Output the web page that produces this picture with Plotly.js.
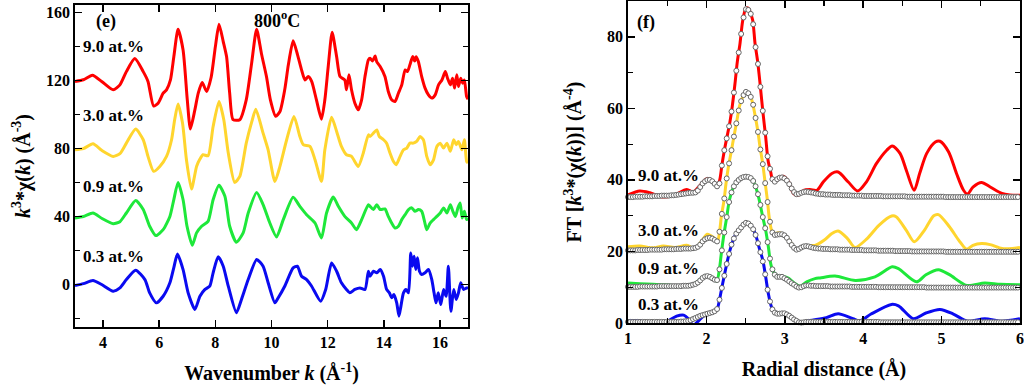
<!DOCTYPE html>
<html>
<head>
<meta charset="utf-8">
<script src="https://cdn.plot.ly/plotly-3.0.1.min.js"></script>
<style>html,body{margin:0;padding:0;background:#fff;}#plot{width:1024px;height:386px;}</style>
</head>
<body>
<div id="plot"></div>
<script>
// ---------- Panel (e): k^3*chi(k), offset curves ----------
const kRed = [3.0,3.3,3.62,3.95,4.36,4.6,4.83,5.13,5.43,5.6,5.8,5.96,6.14,6.26,6.4,6.52,6.67,6.85,7.0,7.11,7.27,7.39,7.53,7.69,7.85,8.0,8.13,8.28,8.4,8.51,8.63,8.87,9.1,9.29,9.47,9.64,9.82,9.96,10.15,10.3,10.47,10.6,10.77,10.93,11.07,11.19,11.31,11.43,11.6,11.78,11.9,12.02,12.16,12.32,12.44,12.61,12.67,12.76,12.85,12.97,13.09,13.21,13.33,13.45,13.51,13.6,13.69,13.75,13.87,14.04,14.16,14.28,14.4,14.52,14.64,14.76,14.84,14.93,15.03,15.1,15.15,15.23,15.35,15.47,15.59,15.71,15.83,15.95,16.07,16.19,16.27,16.37,16.45,16.52,16.6,16.66,16.74,16.81,16.87,16.95,17.0];
const chiRed = [119.5,120.5,123.2,119.5,114.6,117.5,125.3,133,125.3,119.5,105,106.7,112.6,114.6,120.4,134,150.2,138,108.7,91.5,102.8,112.6,118.9,113.6,122,140,153.2,143,134,112.6,97,97,108.7,130,150.2,136,122.4,108.7,99,101.8,114.6,129.3,143.4,135,126.3,120.4,122.4,119.5,108.7,97.3,108.7,128.3,148.4,134,122.4,120.4,114.6,123.4,114.6,106.7,102.8,108.7,122.4,132.2,133.2,131.5,134.5,131,128.3,122.4,113.6,108.7,107.7,112.6,117.5,126.3,125.3,129.3,134.2,131.5,134,131.2,122.4,115.6,111.6,109.7,111.6,117.5,120.4,125.3,121.4,117.5,121.4,115.6,123.4,116.5,121.4,118.5,120.4,110.6,109];

const kYel = [3.0,3.3,3.64,3.95,4.36,4.6,4.83,5.16,5.43,5.6,5.8,6.02,6.26,6.44,6.55,6.67,6.83,6.97,7.15,7.33,7.45,7.56,7.74,7.92,8.13,8.3,8.46,8.69,8.87,9.1,9.3,9.44,9.7,9.88,10.12,10.3,10.54,10.8,11.01,11.13,11.37,11.55,11.78,11.9,12.14,12.32,12.49,12.67,12.85,13.09,13.27,13.45,13.51,13.63,13.75,13.84,13.99,14.1,14.22,14.34,14.44,14.58,14.7,14.82,14.93,15.05,15.17,15.29,15.41,15.53,15.65,15.77,15.89,16.01,16.13,16.25,16.37,16.49,16.58,16.66,16.78,16.87,16.95,17.0];
const chiYel = [79.3,80,82.8,79,75.4,77,83.2,91.5,85.2,75.4,66.6,69.5,75.4,85.2,97,106.3,95,73.4,56.2,69.5,73.8,76.4,75.8,93,107.7,97,77.4,60.1,63.6,83.2,96,103.2,89.1,79.3,60.7,69.5,85.2,98.9,87.1,82.3,81.3,73.4,60.7,79.3,98.5,90.1,81.3,76.4,75.4,69.5,77.4,88.1,87.1,89.1,91,87.1,85.2,83.2,77.4,72.5,70.5,75.4,79.3,80.3,83.2,83.2,84.2,87.1,85.2,75.4,70.5,73.4,81.3,83.2,80.3,83.2,78.4,85.2,82.3,84.2,79.3,85.2,72.5,71.5];

const kGrn = [3.0,3.3,3.64,3.95,4.36,4.6,4.83,5.16,5.43,5.66,5.88,6.14,6.38,6.52,6.67,6.85,6.99,7.18,7.33,7.51,7.74,7.92,8.13,8.34,8.51,8.75,8.99,9.17,9.47,9.7,9.94,10.18,10.42,10.77,11.01,11.25,11.55,11.78,11.96,12.2,12.38,12.61,12.85,13.03,13.21,13.45,13.51,13.63,13.75,13.87,14.04,14.16,14.28,14.4,14.52,14.64,14.76,14.88,15.0,15.11,15.23,15.35,15.45,15.53,15.65,15.77,15.89,16.01,16.13,16.25,16.37,16.46,16.55,16.64,16.72,16.79,16.87,16.95,17.0];
const chiGrn = [39.2,40,42.1,39,35.8,37,42.1,49.5,44.1,34.3,28.8,32.3,40.1,50,60.1,49.9,34.3,23.1,30.4,34.3,37.2,49.9,58.4,51.9,34.3,24.9,30.4,42.1,54.2,47,36.2,28,38.2,51.3,46,41.1,36.2,27.4,42.1,51.5,46,40.1,36.2,32.3,38.2,47,46,44.1,47,44.1,44.5,40.1,36.2,33.3,34.3,38.2,41.1,44.1,45.1,43.1,44.1,43.1,37.2,32.3,36.2,38.2,40.1,42.1,45.1,42.1,47,43.1,40.1,45.1,48,39.1,43.1,38.2,39];

const kBlu = [3.0,3.3,3.64,3.95,4.36,4.6,4.83,5.16,5.49,5.66,5.9,6.14,6.38,6.52,6.65,6.85,7.03,7.27,7.45,7.63,7.8,7.92,8.1,8.28,8.46,8.75,8.93,9.17,9.47,9.7,9.88,10.12,10.24,10.47,10.77,10.92,11.07,11.25,11.43,11.75,11.93,12.14,12.32,12.49,12.67,12.79,12.97,13.15,13.33,13.45,13.51,13.63,13.75,13.87,13.99,14.1,14.2,14.28,14.36,14.46,14.54,14.61,14.7,14.79,14.88,14.96,15.02,15.08,15.14,15.2,15.27,15.35,15.47,15.59,15.71,15.79,15.86,15.94,16.03,16.13,16.22,16.3,16.39,16.49,16.58,16.66,16.74,16.84,16.95,17.0];
const chiBlu = [-0.6,0.5,2.4,0,-3.9,-2,2.9,8.4,2.9,-4.9,-10.8,-6.9,1,10,18,8.8,-4.9,-14.7,-6.9,-2.9,-1,6.9,16.3,10.8,-1,-16.6,-8.8,2.9,14.7,10.8,1,-10.8,-7.8,-1,9.8,10.8,4.9,2.9,-1,-9.8,-2.9,12.7,7.8,1,-2.9,-4.9,-2.9,-2,-2.9,7.8,4.9,7.8,6.9,8.8,4.9,-2.9,-4.9,-7.8,-5.9,-10.8,-18.6,-12.7,-4.9,-2.9,-4.9,18.6,10.8,16.6,8.8,15.7,7.8,5.9,6.9,8.8,2.9,-4.9,-10.8,-4.9,-11.8,-2.9,-6.9,10.8,-15.7,-2.9,-8.8,-4.9,1,-2.9,-2,-2];

// ---------- Panel (f): Fourier transform magnitude (lines) ----------
const rRed = [1.0,1.15,1.28,1.45,1.58,1.75,1.83,1.92,2.01,2.09,2.14,2.17,2.2,2.237,2.267,2.30,2.33,2.365,2.394,2.429,2.463,2.505,2.535,2.556,2.59,2.62,2.654,2.684,2.718,2.756,2.786,2.82,2.846,2.88,2.92,2.98,3.05,3.11,3.17,3.24,3.32,3.41,3.49,3.6,3.68,3.81,3.93,4.04,4.17,4.3,4.37,4.47,4.55,4.65,4.72,4.81,4.92,4.98,5.09,5.19,5.28,5.33,5.4,5.51,5.62,5.77,5.87,6.0];
const ftRed = [35.8,36.9,36.4,35.2,35.7,37.3,36.6,38.5,40.4,39.4,38.5,40,44.5,49.2,52.5,56.2,60.6,67,73,78.2,84.5,88,88,87,84.7,78.2,73,67,59.5,52,45.5,42.2,39.9,39.6,40.2,41,39.4,36.2,35.7,37.1,37.3,37.1,39.4,41.8,42.2,39.4,36.9,39.4,44.6,48.3,49.5,47.4,42.7,37.1,41.8,47.4,50.6,50.8,47.8,41.8,37.1,36,38,39.3,38,36.2,35.8,35.7];

const rYel = [1.0,1.15,1.32,1.45,1.6,1.75,1.855,1.94,2.01,2.09,2.14,2.17,2.19,2.225,2.25,2.28,2.32,2.35,2.39,2.42,2.455,2.505,2.556,2.59,2.62,2.654,2.684,2.718,2.748,2.778,2.8,2.83,2.86,2.92,2.98,3.05,3.1,3.15,3.22,3.3,3.385,3.5,3.6,3.68,3.8,3.895,4.05,4.2,4.363,4.42,4.55,4.652,4.78,4.9,4.96,5.1,5.22,5.32,5.4,5.51,5.62,5.77,5.9,6.0];
const ftYel = [21.3,21.5,21.0,21.5,21.1,21.7,20.8,22.9,24.8,23.9,22.7,25.9,29.7,34.3,39,43.6,48.3,52,56.7,60.4,62.8,64.6,63.7,61.4,58.1,53.9,49.2,44.6,39.4,34.3,29.7,26,25,25.2,24.8,23.3,21.7,20.5,21.1,21.6,21.7,23.1,25,25.7,23.6,21.1,23.6,27.3,29.9,29.7,25.9,22.7,25.9,30,30.3,26.9,23.1,20.6,21.7,22.2,21.9,20.8,20.8,21.1];

const rGrn = [1.0,1.15,1.32,1.5,1.65,1.75,1.85,1.918,1.995,2.07,2.13,2.17,2.19,2.225,2.26,2.293,2.345,2.387,2.43,2.505,2.58,2.62,2.654,2.684,2.718,2.756,2.79,2.82,2.854,2.9,2.98,3.05,3.12,3.2,3.28,3.385,3.45,3.64,3.9,4.15,4.37,4.45,4.68,4.8,4.96,5.1,5.32,5.55,5.75,6.0];
const ftGrn = [11.2,11.0,10.8,10.6,10.4,10.3,11.0,12.1,13.3,12.7,11.7,15.7,19.4,25,29.7,34.3,38,39.4,40.4,40.9,40.4,38.5,36.2,33.4,29.7,25.9,21.3,16.6,14.3,13.3,13.0,12.5,11.2,10.3,11.5,12.4,12.6,13.1,11.9,12.9,15.7,15.2,11.5,13.5,14.9,13.5,10.5,11.2,10.8,10.7];

const rBlu = [1.0,1.1,1.23,1.32,1.4,1.49,1.62,1.71,1.77,1.833,1.9,1.96,2.046,2.11,2.14,2.17,2.19,2.225,2.26,2.3,2.34,2.38,2.43,2.505,2.58,2.63,2.67,2.72,2.756,2.79,2.83,2.875,2.94,3.0,3.07,3.13,3.2,3.32,3.53,3.68,3.87,3.96,4.1,4.36,4.45,4.64,4.8,4.98,5.15,5.33,5.55,5.77,6.0];
const ftBlu = [0.6,0.7,0.3,-0.3,-0.5,0.3,1.9,2.2,1.2,-0.6,0.6,1.9,2.6,3.1,4,6.8,9.1,12.9,16.6,20.3,23.1,25,26.4,28,26.9,24.5,21.3,17.5,12.9,8.2,4.5,2.8,2.6,2.8,1.9,0.8,0.1,0.7,1.5,2.6,1.2,0.6,2.5,5.2,4.8,1.2,2.8,3.8,2.5,0.5,1.2,0.5,1.2];

// ---------- Panel (f): fits (open circles), on the FT R grid starting at 1.0 ----------
const fitR0 = 1.0, fitDR = 0.0307;
const fitRed = [35.2,35.2,35.2,35.3,35.3,35.3,35.3,35.4,35.4,35.4,
35.4,35.5,35.5,35.5,35.6,35.6,35.6,35.6,35.7,35.7,
35.8,35.9,36.0,36.1,36.2,36.3,36.4,36.4,36.5,37.0,
38.0,39.0,39.6,40.0,40.0,39.6,38.9,38.2,39.0,44.0,
48.3,51.6,55.0,59.1,64.4,70.5,75.6,80.8,85.4,87.7,
87.5,86.4,83.5,77.1,72.4,66.0,59.3,53.2,46.6,43.1,
40.2,39.5,40.2,40.6,40.7,40.4,39.8,38.8,37.6,36.6,
36.0,36.1,36.4,36.6,36.7,36.6,36.5,36.4,36.2,36.1,
36.0,36.0,35.9,35.9,35.9,35.8,35.8,35.8,35.8,35.7,
35.7,35.7,35.7,35.6,35.6,35.6,35.6,35.6,35.5,35.5,
35.5,35.5,35.5,35.5,35.5,35.5,35.4,35.4,35.4,35.4,
35.4,35.4,35.4,35.4,35.4,35.4,35.3,35.3,35.3,35.3,
35.3,35.3,35.3,35.3,35.3,35.3,35.3,35.3,35.3,35.3,
35.3,35.3,35.2,35.2,35.2,35.2,35.2,35.2,35.2,35.2,
35.2,35.2,35.2,35.2,35.2,35.2,35.2,35.2,35.2,35.2,
35.2,35.2,35.2,35.2,35.2,35.2,35.2,35.2,35.2,35.2,
35.2,35.2,35.2];
const fitYel = [20.3,20.3,20.3,20.3,20.4,20.4,20.4,20.4,20.4,20.5,
20.5,20.5,20.5,20.5,20.5,20.6,20.6,20.6,20.6,20.6,
20.7,20.7,20.7,20.8,20.8,20.8,20.8,20.9,21.0,21.3,
21.9,22.8,23.4,23.7,23.8,23.6,23.2,22.8,25.5,30.5,
34.8,40.4,44.6,48.3,52.1,55.8,59.4,62.0,63.7,64.6,
64.2,63.2,61.0,57.3,53.4,48.5,44.4,39.1,33.8,28.3,
25.3,24.6,24.7,24.8,24.8,24.5,23.8,22.8,21.8,21.0,
20.5,20.7,21.1,21.4,21.5,21.4,21.2,21.0,20.9,20.8,
20.8,20.7,20.7,20.7,20.6,20.6,20.6,20.6,20.5,20.5,
20.5,20.5,20.5,20.4,20.4,20.4,20.4,20.4,20.3,20.3,
20.3,20.3,20.3,20.3,20.2,20.2,20.2,20.2,20.2,20.2,
20.2,20.1,20.1,20.1,20.1,20.1,20.1,20.1,20.0,20.0,
20.0,20.0,20.0,20.0,20.0,20.0,20.0,20.0,20.0,20.0,
20.0,20.0,19.9,19.9,19.9,19.9,19.9,19.9,19.9,19.9,
19.9,19.9,19.9,19.9,19.9,19.9,19.9,19.9,19.9,19.9,
19.9,19.9,19.9,19.9,19.9,19.9,19.9,19.9,19.9,19.9,
19.9,19.9,19.9];
const fitGrn = [10.1,10.1,10.1,10.1,10.1,10.2,10.2,10.2,10.2,10.2,
10.2,10.2,10.2,10.3,10.3,10.3,10.3,10.3,10.3,10.3,
10.3,10.3,10.3,10.4,10.4,10.4,10.5,10.7,10.9,11.3,
11.9,12.6,13.0,13.1,12.9,12.5,12.1,12.0,15.0,20.3,
25.3,29.6,33.8,36.5,38.2,39.3,40.0,40.5,40.8,40.9,
40.8,40.5,39.7,38.2,36.0,33.0,29.6,26.5,22.6,18.0,
15.0,13.5,12.9,12.9,12.9,12.5,12.1,11.6,11.1,10.7,
10.2,9.9,10.0,10.3,10.5,10.5,10.4,10.4,10.3,10.3,
10.3,10.3,10.3,10.3,10.2,10.2,10.2,10.2,10.2,10.2,
10.2,10.2,10.2,10.1,10.1,10.1,10.1,10.1,10.1,10.1,
10.1,10.1,10.1,10.1,10.0,10.0,10.0,10.0,10.0,10.0,
10.0,10.0,10.0,10.0,10.0,10.0,10.0,10.0,10.0,10.0,
10.0,10.0,10.0,10.0,9.9,9.9,9.9,9.9,9.9,9.9,
9.9,9.9,9.9,9.9,9.9,9.9,9.9,9.9,9.9,9.9,
9.9,9.9,9.9,9.9,9.9,9.9,9.9,9.9,9.9,9.9,
9.9,9.9,9.9,9.9,9.9,9.9,9.9,9.9,9.9,9.9,
9.9,9.9,9.9];
const fitBlu = [0.3,0.3,0.3,0.3,0.3,0.3,0.3,0.3,0.3,0.3,
0.3,0.3,0.3,0.3,0.3,0.3,0.3,0.3,0.3,0.3,
0.3,0.3,0.4,0.4,0.5,0.6,0.8,1.1,1.4,1.7,
2.0,2.2,2.4,2.6,2.8,3.0,3.3,3.9,6.5,9.8,
13.2,16.5,19.3,21.9,23.6,25.0,25.9,26.7,27.5,28.0,
27.8,27.2,26.2,24.6,22.3,19.8,17.2,13.6,9.3,6.0,
3.8,2.9,2.6,2.6,2.7,2.7,2.4,2.0,1.5,1.0,
0.6,0.2,0.1,0.2,0.3,0.3,0.3,0.3,0.3,0.3,
0.3,0.3,0.3,0.3,0.3,0.3,0.3,0.3,0.3,0.3,
0.3,0.3,0.3,0.3,0.3,0.3,0.3,0.3,0.3,0.3,
0.3,0.3,0.3,0.3,0.3,0.2,0.2,0.2,0.2,0.2,
0.2,0.2,0.2,0.2,0.2,0.2,0.2,0.2,0.2,0.2,
0.2,0.2,0.2,0.2,0.2,0.2,0.2,0.2,0.2,0.2,
0.2,0.2,0.2,0.2,0.2,0.2,0.2,0.2,0.2,0.2,
0.2,0.2,0.2,0.2,0.2,0.2,0.2,0.2,0.2,0.2,
0.2,0.2,0.2,0.2,0.2,0.2,0.2,0.2,0.2,0.2,
0.2,0.2,0.2];

const seriesNames = ['9.0 at.%','3.0 at.%','0.9 at.%','0.3 at.%'];
const colors = ['#ff0000','#ffd52e','#1ee83a','#0a0af0'];

const FONT = "'Liberation Serif', 'Times New Roman', Times, serif";

function line(x, y, color, xa, ya, name, smooth) {
  return {x: x, y: y, xaxis: xa, yaxis: ya, type: 'scatter', mode: 'lines', name: name,
    line: {color: color, width: 3, shape: 'spline', smoothing: smooth}, showlegend: false, hoverinfo: 'skip'};
}
function fit(y, name) {
  return {y: y, x0: fitR0, dx: fitDR, xaxis: 'x2', yaxis: 'y2', type: 'scatter', mode: 'markers', name: name + ' fit',
    marker: {symbol: 'circle', size: 5, color: '#ffffff', line: {color: '#666666', width: 1}},
    cliponaxis: false, showlegend: false, hoverinfo: 'skip'};
}

const traces = [
  line(kRed, chiRed, colors[0], 'x', 'y', seriesNames[0], 0.6),
  line(kYel, chiYel, colors[1], 'x', 'y', seriesNames[1], 0.6),
  line(kGrn, chiGrn, colors[2], 'x', 'y', seriesNames[2], 0.6),
  line(kBlu, chiBlu, colors[3], 'x', 'y', seriesNames[3], 0.6),
  line(rRed, ftRed, colors[0], 'x2', 'y2', seriesNames[0], 0.8),
  line(rYel, ftYel, colors[1], 'x2', 'y2', seriesNames[1], 0.8),
  line(rGrn, ftGrn, colors[2], 'x2', 'y2', seriesNames[2], 0.8),
  line(rBlu, ftBlu, colors[3], 'x2', 'y2', seriesNames[3], 0.8),
  fit(fitRed, seriesNames[0]),
  fit(fitYel, seriesNames[1]),
  fit(fitGrn, seriesNames[2]),
  fit(fitBlu, seriesNames[3])
];

const tickFont = {family: FONT, size: 16, color: '#000', weight: 'bold'};
const titleFont = {family: FONT, size: 20, color: '#000', weight: 'bold'};
function axis(extra) {
  return Object.assign({
    showline: true, linecolor: '#000', linewidth: 1.8, mirror: 'ticks',
    ticks: 'inside', ticklen: 7, tickwidth: 1.5, tickcolor: '#000',
    showgrid: false, zeroline: false, tickfont: tickFont, fixedrange: true,
    ticklabeloverflow: 'allow'
  }, extra);
}

const layout = {
  width: 1024, height: 386,
  margin: {l: 75, r: 4, t: 1, b: 59},
  paper_bgcolor: '#fff', plot_bgcolor: '#fff',
  font: {family: FONT, color: '#000'},
  showlegend: false,
  xaxis: axis({domain: [0, 0.4159], range: [3, 17], tick0: 0, dtick: 2,
    title: {text: 'Wavenumber <i>k</i> (Å<sup>-1</sup>)', font: titleFont, standoff: 16}}),
  yaxis: axis({domain: [0, 0.9877], range: [-25, 164.5], tick0: 0, dtick: 40,
    minor: {dtick: 20, ticks: 'inside', ticklen: 5, tickwidth: 1.2, tickcolor: '#000', showgrid: false},
    title: {text: '<i>k</i><sup>3</sup>*χ(<i>k</i>) (Å<sup>-3</sup>)', font: titleFont, standoff: 10}}),
  xaxis2: axis({anchor: 'y2', domain: [0.5852, 1], range: [1, 6.0001], tick0: 0, dtick: 1,
    minor: {dtick: 0.5, ticks: 'inside', ticklen: 5, tickwidth: 1.2, tickcolor: '#000', showgrid: false},
    title: {text: 'Radial distance (Å)', font: titleFont, standoff: 16}}),
  yaxis2: axis({anchor: 'x2', domain: [0.0123, 1], range: [0, 90], tick0: 0, dtick: 20,
    minor: {dtick: 10, ticks: 'inside', ticklen: 5, tickwidth: 1.2, tickcolor: '#000', showgrid: false},
    title: {text: 'FT [<i>k</i><sup>3</sup>*(χ(<i>k</i>))] (Å<sup>-4</sup>)', font: titleFont, standoff: 20}}),
  annotations: [
    {xref: 'x', yref: 'y', x: 4.09, y: 155, text: '(e)', showarrow: false, font: {family: FONT, size: 18, weight: 'bold'}},
    {xref: 'x', yref: 'y', x: 10.2, y: 155.7, text: '800<sup>o</sup>C', showarrow: false, font: {family: FONT, size: 18, weight: 'bold'}},
    {xref: 'x', yref: 'y', x: 3.22, y: 139.8, xanchor: 'left', text: seriesNames[0], showarrow: false, font: {family: FONT, size: 17, weight: 'bold'}},
    {xref: 'x', yref: 'y', x: 3.22, y: 99.3, xanchor: 'left', text: seriesNames[1], showarrow: false, font: {family: FONT, size: 17, weight: 'bold'}},
    {xref: 'x', yref: 'y', x: 3.22, y: 57.4, xanchor: 'left', text: seriesNames[2], showarrow: false, font: {family: FONT, size: 17, weight: 'bold'}},
    {xref: 'x', yref: 'y', x: 3.22, y: 16.3, xanchor: 'left', text: seriesNames[3], showarrow: false, font: {family: FONT, size: 17, weight: 'bold'}},
    {xref: 'x2', yref: 'y2', x: 1.23, y: 83.9, text: '(f)', showarrow: false, font: {family: FONT, size: 18, weight: 'bold'}},
    {xref: 'x2', yref: 'y2', x: 1.10, y: 41.3, xanchor: 'left', text: seriesNames[0], showarrow: false, font: {family: FONT, size: 17, weight: 'bold'}},
    {xref: 'x2', yref: 'y2', x: 1.10, y: 25.9, xanchor: 'left', text: seriesNames[1], showarrow: false, font: {family: FONT, size: 17, weight: 'bold'}},
    {xref: 'x2', yref: 'y2', x: 1.10, y: 15.2, xanchor: 'left', text: seriesNames[2], showarrow: false, font: {family: FONT, size: 17, weight: 'bold'}},
    {xref: 'x2', yref: 'y2', x: 1.10, y: 5.2, xanchor: 'left', text: seriesNames[3], showarrow: false, font: {family: FONT, size: 17, weight: 'bold'}}
  ]
};

Plotly.newPlot('plot', traces, layout, {staticPlot: true, displayModeBar: false});
</script>
</body>
</html>
